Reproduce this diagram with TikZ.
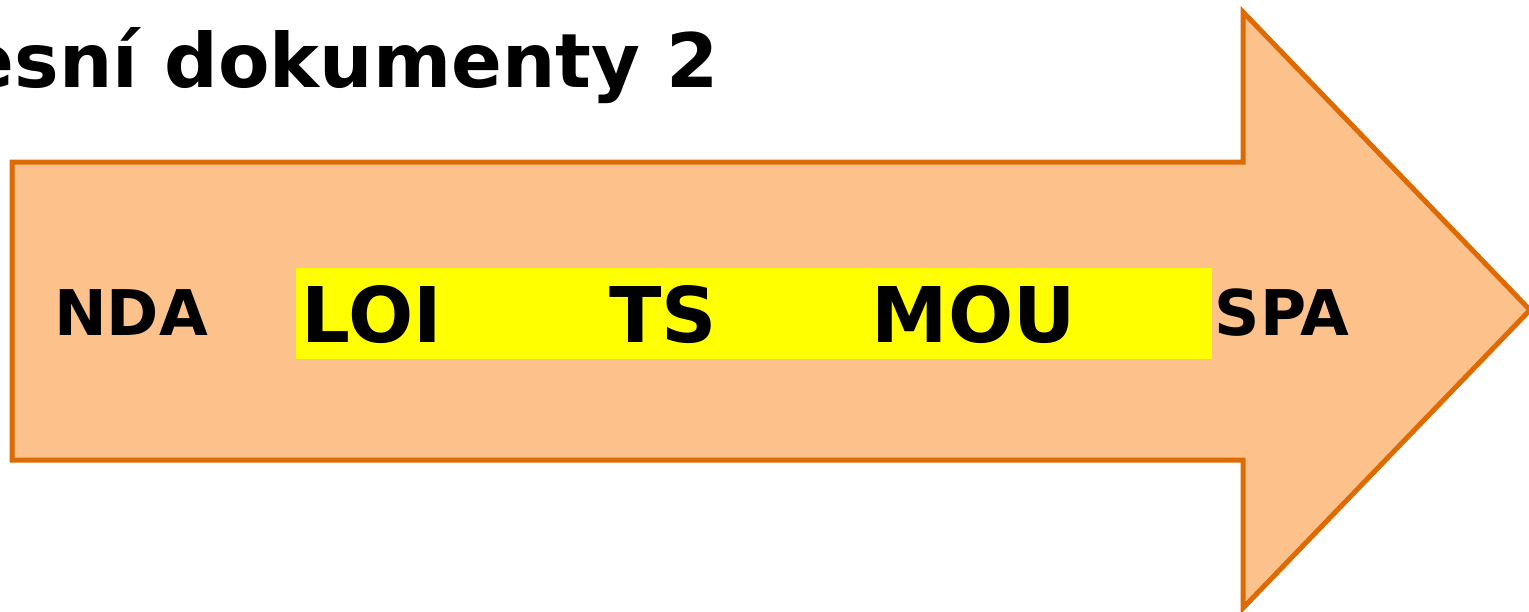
\documentclass[tikz,border=0pt]{standalone}
\usepackage{fontspec}
\setmainfont{DejaVu Sans}
\definecolor{arrowfill}{RGB}{253,194,139}
\definecolor{arrowline}{RGB}{222,106,4}
\definecolor{hl}{RGB}{255,255,0}
\begin{document}
\begin{tikzpicture}[x=0.5pt,y=-0.5pt,
  lbl/.style={inner sep=0pt,outer sep=0pt,font=\bfseries\fontsize{31.5pt}{36pt}\selectfont,anchor=base},
  biglbl/.style={inner sep=0pt,outer sep=0pt,font=\bfseries\fontsize{38.4pt}{42pt}\selectfont,anchor=base}]
\useasboundingbox (0,0) rectangle (1529,611);
\clip (0,0) rectangle (1529,611);
\draw[line width=2.5pt,fill=arrowfill,draw=arrowline,line join=miter]
  (12,162) -- (1243,162) -- (1243,12) -- (1530,310) -- (1243,608) -- (1243,460) -- (12,460) -- cycle;
\fill[hl] (296,268) rectangle (1212,359);
\node[inner sep=0pt,font=\bfseries\fontsize{37.5pt}{42pt}\selectfont,anchor=base east] (title) at (719,87) {esní dokumenty 2};
\node[lbl] (nda) at (131,335) {NDA};
\node[biglbl] (loi) at (372,342) {LOI};
\node[biglbl] (ts) at (663,342) {TS};
\node[biglbl] (mou) at (974,342) {MOU};
\node[lbl] (spa) at (1282,335) {SPA};
\end{tikzpicture}
\end{document}
